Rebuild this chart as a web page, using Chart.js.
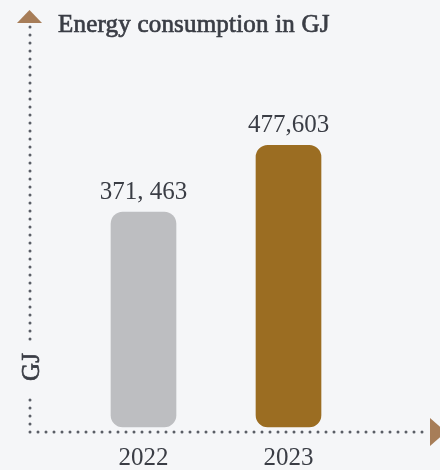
<!DOCTYPE html>
<html>
<head>
<meta charset="utf-8">
<script src="https://cdn.jsdelivr.net/npm/chart.js@4"></script>
<style>
    html, body { margin: 0; padding: 0; background: #f5f6f8; }
    #chart-wrap { width: 440px; height: 470px; }
</style>
</head>
<body>
<div id="chart-wrap"><canvas id="energy-chart" width="440" height="470"></canvas></div>
<script>
// Energy consumption chart data
const years = ['2022', '2023'];
const energyGJ = [371463, 477603];
const valueLabels = ['371, 463', '477,603'];
const barColors = ['#bdbec1', '#9b6d22'];
const yMin = 23000;
const yMax = 600000;
const barBase = 31000;

const SERIF = '"Liberation Serif", "DejaVu Serif", serif';
const TEXT = '#3a3d45';
const DOTS = '#5a5e66';
const ARROW = '#a77d58';

// Dotted axes, arrows and all text drawn on top of the chart
const decorPlugin = {
    id: 'decor',
    afterDatasetsDraw(chart) {
        const ctx = chart.ctx;
        const xScale = chart.scales.x;
        const meta = chart.getDatasetMeta(0);

        function dotted(x1, y1, x2, y2) {
            ctx.save();
            ctx.strokeStyle = DOTS;
            ctx.lineWidth = 3;
            ctx.lineCap = 'round';
            ctx.setLineDash([0, 8]);
            ctx.beginPath();
            ctx.moveTo(x1, y1);
            ctx.lineTo(x2, y2);
            ctx.stroke();
            ctx.restore();
        }

        // semi-bold look: regular face with a thin outline
        function heavyText(str, x, y) {
            ctx.fillText(str, x, y);
            ctx.strokeText(str, x, y);
        }

        // axes
        dotted(30, 27, 30, 342);
        dotted(30, 400, 30, 426);
        dotted(30, 432, 428, 432);

        // arrows
        ctx.save();
        ctx.fillStyle = ARROW;
        ctx.beginPath();
        ctx.moveTo(29.5, 10);
        ctx.lineTo(42, 23);
        ctx.lineTo(17, 23);
        ctx.closePath();
        ctx.fill();
        ctx.beginPath();
        ctx.moveTo(430, 418);
        ctx.lineTo(446, 432);
        ctx.lineTo(430, 446);
        ctx.closePath();
        ctx.fill();
        ctx.restore();

        ctx.save();
        ctx.fillStyle = TEXT;
        ctx.strokeStyle = TEXT;
        ctx.lineWidth = 0.7;

        // title
        ctx.font = '25px ' + SERIF;
        ctx.letterSpacing = '0.2px';
        ctx.textAlign = 'left';
        ctx.textBaseline = 'alphabetic';
        heavyText('Energy consumption in GJ', 58, 32);
        ctx.letterSpacing = '0px';

        // value labels over the bars
        ctx.font = '25px ' + SERIF;
        ctx.textAlign = 'center';
        meta.data.forEach((bar, i) => {
            ctx.fillText(valueLabels[i], bar.x, bar.y - 13);
        });

        // category labels
        years.forEach((y, i) => {
            ctx.fillText(y, xScale.getPixelForValue(i), 465);
        });

        // y axis unit
        ctx.translate(39, 367);
        ctx.rotate(-Math.PI / 2);
        ctx.font = '25px ' + SERIF;
        ctx.textAlign = 'center';
        heavyText('GJ', 0, 0);
        ctx.restore();
    }
};

new Chart(document.getElementById('energy-chart'), {
    type: 'bar',
    data: {
        labels: years,
        datasets: [{
            data: energyGJ.map(v => [barBase, v]),
            backgroundColor: barColors,
            borderRadius: 12,
            borderSkipped: false,
            barThickness: 65
        }]
    },
    options: {
        responsive: false,
        animation: false,
        layout: {
            padding: { left: 71, right: 79, top: 68, bottom: 38 }
        },
        plugins: {
            legend: { display: false },
            tooltip: { enabled: false }
        },
        scales: {
            x: { display: false },
            y: { display: false, min: yMin, max: yMax }
        }
    },
    plugins: [decorPlugin]
});
</script>
</body>
</html>
